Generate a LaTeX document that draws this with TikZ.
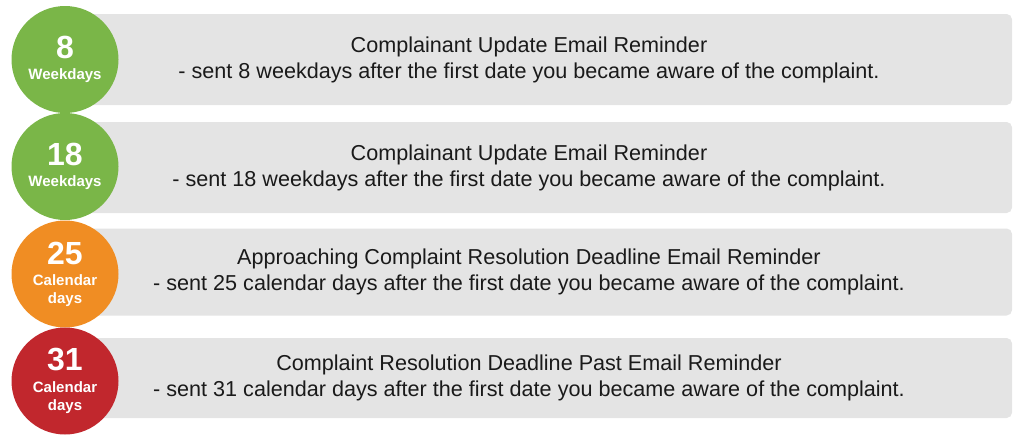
\documentclass[tikz,border=0pt]{standalone}
\usepackage{fontspec}
\setmainfont{Liberation Sans}
\definecolor{weekgreen}{HTML}{7AB648}
\definecolor{calorange}{HTML}{F08D23}
\definecolor{pastred}{HTML}{C1272D}
\definecolor{boxgray}{HTML}{E4E4E4}
\definecolor{inkgray}{HTML}{1A1A1A}
\begin{document}
\begin{tikzpicture}[
    x=0.75pt, y=-0.75pt,
    reminder/.style={rectangle, fill=boxgray, rounded corners=4pt, minimum width=724.5pt, minimum height=#1, align=center, text=inkgray, font=\fontsize{16.2pt}{19.5pt}\selectfont, inner sep=0pt},
    dayball/.style={circle, fill=#1, minimum size=80.25pt, inner sep=0pt},
    bignum/.style={text=white, inner sep=0pt, font=\fontsize{24pt}{26pt}\selectfont\bfseries},
    smalllbl/.style={text=white, inner sep=0pt, align=center, font=\fontsize{11.25pt}{13.5pt}\selectfont\bfseries}
]
\useasboundingbox (0,0) rectangle (1015,443);

% Reminder boxes
\node[reminder=68.25pt] (box1) at (529,59.5) {Complainant Update Email Reminder\\- sent 8 weekdays after the first date you became aware of the complaint.};
\node[reminder=68.25pt] (box2) at (529,167.5) {Complainant Update Email Reminder\\- sent 18 weekdays after the first date you became aware of the complaint.};
\node[reminder=65.25pt] (box3) at (529,272) {Approaching Complaint Resolution Deadline Email Reminder\\- sent 25 calendar days after the first date you became aware of the complaint.};
\node[reminder=60pt] (box4) at (529,378) {Complaint Resolution Deadline Past Email Reminder\\- sent 31 calendar days after the first date you became aware of the complaint.};

% Day circles
\node[dayball=weekgreen] (day8) at (65,59.5) {};
\node[dayball=weekgreen] (day18) at (65,166.5) {};
\node[dayball=calorange] (day25) at (65,274) {};
\node[dayball=pastred] (day31) at (65,381) {};

% Circle labels
\node[bignum] (num8) at (65,47) {8};
\node[smalllbl] (lbl8) at (65,76) {Weekdays};
\node[bignum] (num18) at (65,154) {18};
\node[smalllbl] (lbl18) at (65,183) {Weekdays};
\node[bignum] (num25) at (65,253) {25};
\node[smalllbl] (lbl25) at (65,291) {Calendar\\days};
\node[bignum] (num31) at (65,360) {31};
\node[smalllbl] (lbl31) at (65,398) {Calendar\\days};

\end{tikzpicture}
\end{document}
